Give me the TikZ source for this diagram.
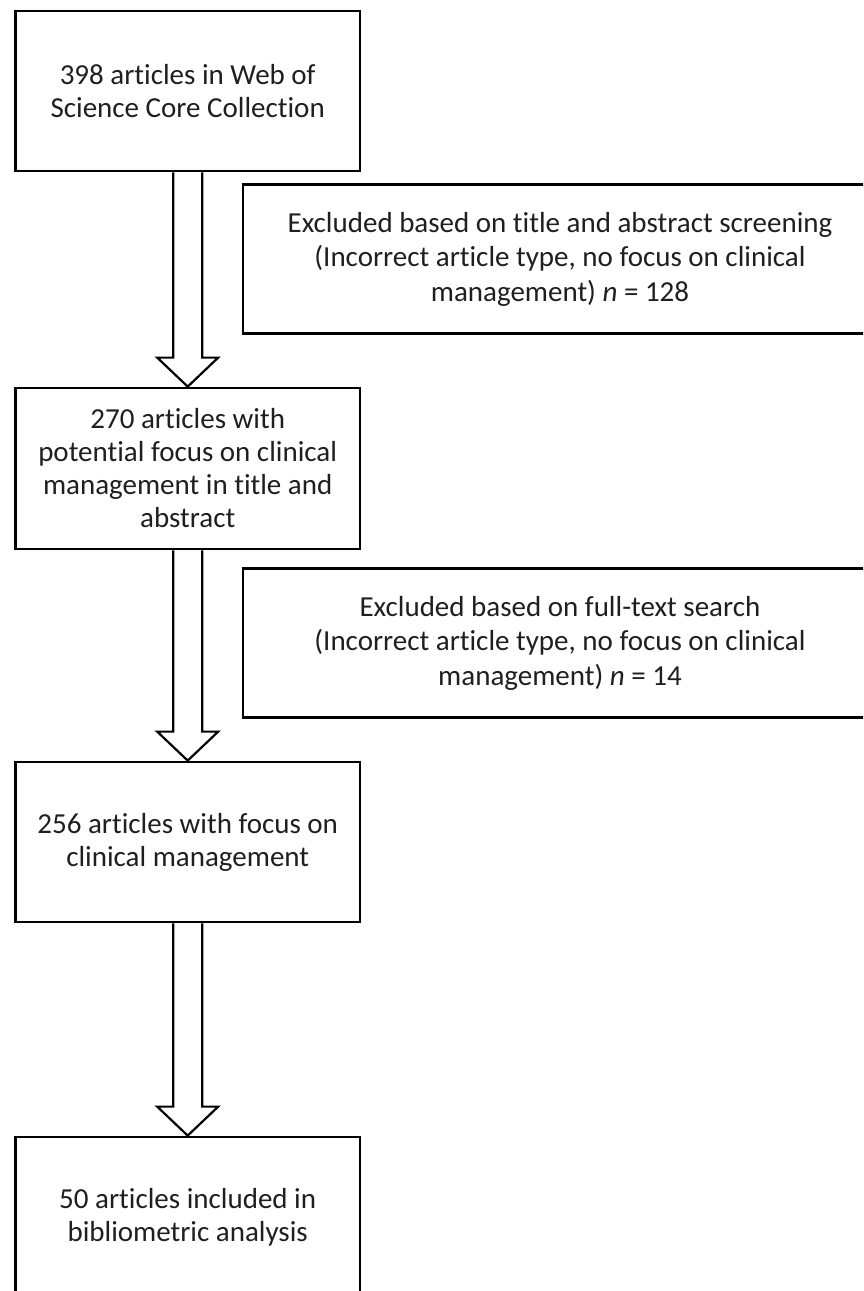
\documentclass[tikz,border=0pt]{standalone}
\usepackage{fontspec}
\setmainfont{Carlito}[Ligatures={NoCommon}]
\usetikzlibrary{calc}

\newcommand{\hollowarrow}[2]{%
\draw[arrowline] ([xshift=-7.25pt]#1.south) -- ([xshift=-7.25pt,yshift=14.5pt]#2.north)
  -- ([xshift=-15.25pt,yshift=14.5pt]#2.north) -- (#2.north)
  -- ([xshift=15.25pt,yshift=14.5pt]#2.north) -- ([xshift=7.25pt,yshift=14.5pt]#2.north)
  -- ([xshift=7.25pt]#1.south);}

\begin{document}
\begin{tikzpicture}[x=0.5pt,y=-0.5pt,
  boxtext/.style={text=black!88, align=center, inner sep=0pt},
  mainbox/.style={boxtext, draw, line width=1.4pt, font=\fontsize{14.5pt}{16.5pt}\selectfont,
    minimum width=172.25pt, minimum height=80pt},
  exbox/.style={boxtext, draw, line width=1.4pt, font=\fontsize{14.5pt}{17.25pt}\selectfont,
    minimum width=317pt, minimum height=74.5pt},
  arrowline/.style={line width=1.1pt, line join=miter}]
\useasboundingbox (0,0) rectangle (863,1291);
\clip (0,0) rectangle (863,1291);
\node[mainbox] (b1) at (187.7,91) {398 articles in Web of\\Science Core Collection};
\node[mainbox, minimum height=80.5pt] (b2) at (187.7,468.5) {270 articles with\\potential focus on clinical\\management in title and\\abstract};
\node[mainbox] (b3) at (187.7,842) {256 articles with focus on\\clinical management};
\node[mainbox] (b4) at (187.7,1217) {50 articles included in\\bibliometric analysis};
\node[exbox] (ex1) at (560,259) {Excluded based on title and abstract screening\\(Incorrect article type, no focus on clinical\\management) \textit{n} = 128};
\node[exbox] (ex2) at (560,643) {Excluded based on full-text search\\(Incorrect article type, no focus on clinical\\management) \textit{n} = 14};
\hollowarrow{b1}{b2}
\hollowarrow{b2}{b3}
\hollowarrow{b3}{b4}
\end{tikzpicture}
\end{document}
